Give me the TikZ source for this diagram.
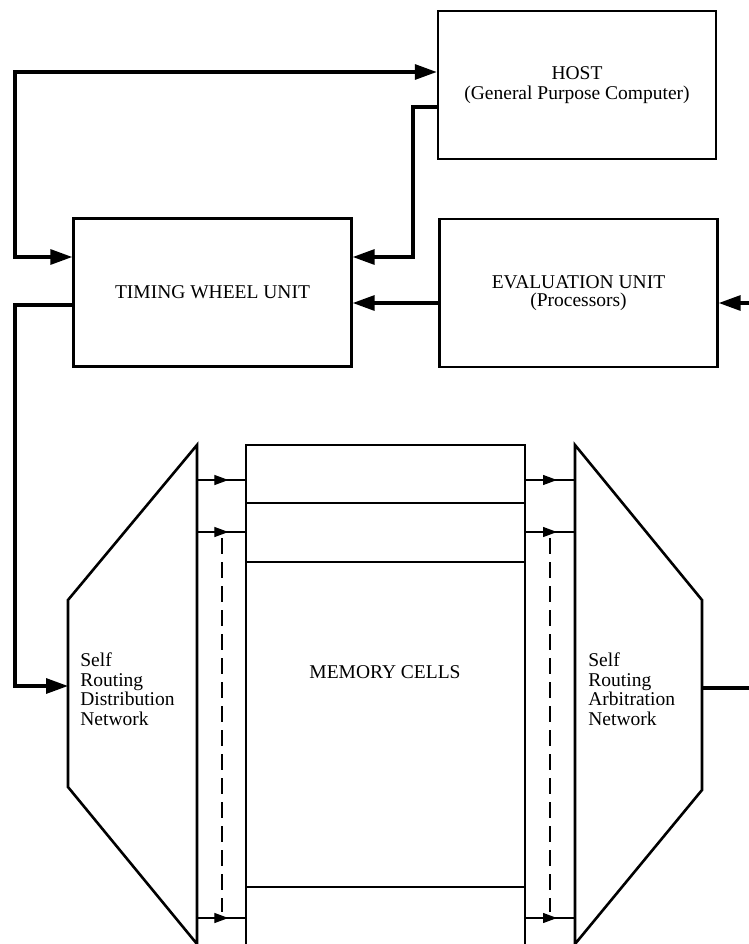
\documentclass[tikz,border=0pt]{standalone}
\usepackage{fontspec}
\setmainfont{Liberation Serif}
\usetikzlibrary{arrows.meta, decorations.markings}

\tikzset{
  box/.style={draw, line width=1.2pt, minimum width=139pt, minimum height=74pt,
    align=center, inner sep=0pt},
  conn/.style={line width=1.6pt, >={Triangle[length=11pt,width=7.5pt]}},
  net/.style={line width=1.3pt, line join=miter},
  mem/.style={line width=1.1pt},
  cellline/.style={line width=0.6pt},
  cellarrow/.style={line width=0.6pt, postaction={decorate},
    decoration={markings, mark=at position 0.64 with {\arrow{Triangle[length=7pt,width=5pt]}}}},
  dashline/.style={line width=0.6pt, dash pattern=on 8pt off 4pt},
  lbl/.style={align=left, inner sep=0pt}
}

\begin{document}
\begin{tikzpicture}[x=0.5pt, y=-0.5pt,
    every node/.style={font=\fontsize{9.75pt}{9.75pt}\selectfont}]
    \useasboundingbox (0,0) rectangle (749,944);

    % blocks
    \node[box] (host) at (577,85) {HOST\\(General Purpose Computer)};
    \node[box] (twu) at (212.5,292.5) {TIMING WHEEL UNIT};
    \node[box] (eval) at (578.5,293)
        {EVALUATION UNIT\\[-1pt](Processors)};

    % bend points
    \coordinate (loopA) at (15,72);
    \coordinate (loopB) at (15,257);
    \coordinate (hostA) at (413,107);
    \coordinate (hostB) at (413,257);
    \coordinate (midrow) at (749,303);
    \coordinate (outA) at (15,305);
    \coordinate (outB) at (15,686);
    \coordinate (distin) at (68,686);
    \coordinate (arbout) at (702,688);
    \coordinate (rightend) at (749,688);

    % connectors
    \draw[conn,<->] (host.west |- loopA) -- (loopA) -- (loopB) -- (twu.west |- loopB);
    \draw[conn,->] (host.west |- hostA) -- (hostA) -- (hostB) -- (twu.east |- hostB);
    \draw[conn,->] (eval.west |- midrow) -- (twu.east |- midrow);
    \draw[conn,->] (midrow) -- (eval.east |- midrow);
    \draw[conn,->] (twu.west |- outA) -- (outA) -- (outB) -- (distin);
    \draw[conn] (arbout) -- (rightend);

    % distribution and arbitration networks
    \draw[net] (197,445) -- (68,600) -- (68,787) -- (197,944) -- cycle;
    \draw[net] (575,445) -- (702,600) -- (702,790) -- (575,944) -- cycle;

    % memory cells
    \draw[mem] (246,944) -- (246,445) -- (525,445) -- (525,944);
    \foreach \y in {503, 562, 887}
        \draw[cellline] (246,\y) -- (525,\y);
    \foreach \y in {480, 532, 918} {
        \draw[cellarrow] (197,\y) -- (246,\y);
        \draw[cellarrow] (525,\y) -- (575,\y);
    }
    \draw[dashline] (222,538) -- (222,912);
    \draw[dashline] (550,538) -- (550,912);

    % labels
    \node (memlbl) at (385,672) {MEMORY CELLS};
    \node[lbl, anchor=west] (distlbl) at (80,689)
        {Self\\Routing\\Distribution\\Network};
    \node[lbl, anchor=west] (arblbl) at (588,689)
        {Self\\Routing\\Arbitration\\Network};
\end{tikzpicture}
\end{document}
